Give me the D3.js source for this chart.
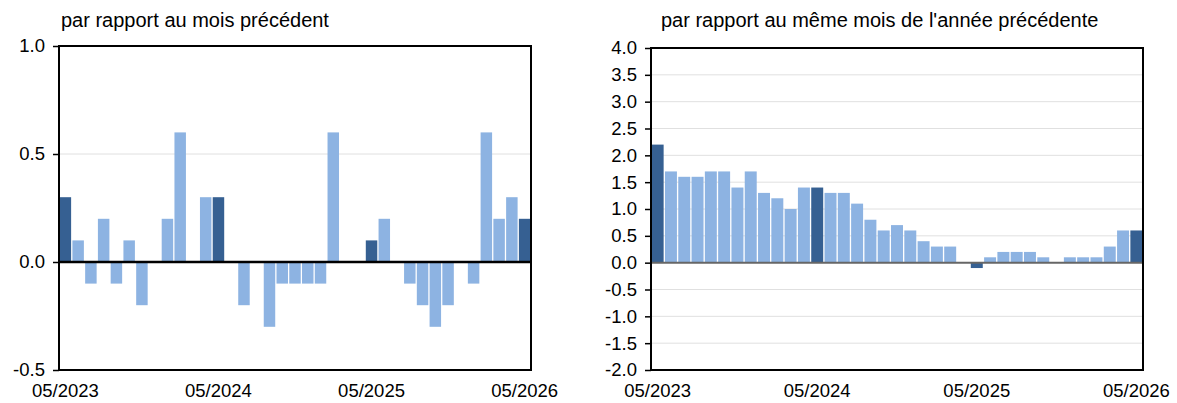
<!DOCTYPE html>
<html>
<head>
<meta charset="utf-8">
<script src="https://cdn.jsdelivr.net/npm/d3@7"></script>
<style>
  body { margin: 0; background: #fff; }
  svg text { font-family: "Liberation Sans", Arial, sans-serif; fill: #000; }
</style>
</head>
<body>
<div id="chart"></div>
<script>
// months from 05/2023 to 05/2026
var months = [];
for (var i = 0; i < 37; i++) {
  var m = (4 + i) % 12 + 1, y = 2023 + Math.floor((4 + i) / 12);
  months.push((m < 10 ? "0" : "") + m + "/" + y);
}
var xLabels = ["05/2023", "05/2024", "05/2025", "05/2026"];

// monthly change, %
var momValues = [0.3, 0.1, -0.1, 0.2, -0.1, 0.1, -0.2, 0, 0.2, 0.6, 0, 0.3, 0.3,
  0, -0.2, 0, -0.3, -0.1, -0.1, -0.1, -0.1, 0.6, 0, 0, 0.1,
  0.2, 0, -0.1, -0.2, -0.3, -0.2, 0, -0.1, 0.6, 0.2, 0.3, 0.2];

// year-over-year change, %
var yoyValues = [2.2, 1.7, 1.6, 1.6, 1.7, 1.7, 1.4, 1.7, 1.3, 1.2, 1.0, 1.4, 1.4,
  1.3, 1.3, 1.1, 0.8, 0.6, 0.7, 0.6, 0.4, 0.3, 0.3, 0, -0.1,
  0.1, 0.2, 0.2, 0.2, 0.1, 0, 0.1, 0.1, 0.1, 0.3, 0.6, 0.6];

var momTicks = [-0.5, 0.0, 0.5, 1.0];
var yoyTicks = [-2.0, -1.5, -1.0, -0.5, 0.0, 0.5, 1.0, 1.5, 2.0, 2.5, 3.0, 3.5, 4.0];

var lightBlue = "#8db3e2", darkBlue = "#366092";

var svg = d3.select("#chart").append("svg")
  .attr("width", 1177)
  .attr("height", 403);

function drawPanel(opt) {
  var g = svg.append("g");

  var x = d3.scaleBand()
    .domain(months)
    .range([opt.left, opt.right])
    .paddingInner(0.1)
    .paddingOuter(0.05);

  var y = d3.scaleLinear()
    .domain(opt.domain)
    .range([opt.bottom, opt.top]);

  // gridlines
  g.selectAll(".grid")
    .data(opt.grid)
    .enter().append("line")
    .attr("x1", opt.left).attr("x2", opt.right)
    .attr("y1", function (d) { return y(d); })
    .attr("y2", function (d) { return y(d); })
    .attr("stroke", "#e0e0e0")
    .attr("stroke-width", 1);

  // bars
  g.selectAll(".bar")
    .data(opt.values)
    .enter().append("rect")
    .attr("x", function (d, i) { return x(months[i]); })
    .attr("width", x.bandwidth())
    .attr("y", function (d) { return y(Math.max(0, d)); })
    .attr("height", function (d) { return Math.abs(y(d) - y(0)); })
    .attr("fill", function (d, i) { return months[i].slice(0, 2) === "05" ? darkBlue : lightBlue; });

  // zero line
  g.append("line")
    .attr("x1", opt.left).attr("x2", opt.right)
    .attr("y1", y(0)).attr("y2", y(0))
    .attr("stroke", opt.zeroColor)
    .attr("stroke-width", opt.zeroWidth);

  // frame
  g.append("rect")
    .attr("x", opt.left).attr("y", opt.top)
    .attr("width", opt.right - opt.left)
    .attr("height", opt.bottom - opt.top)
    .attr("fill", "none")
    .attr("stroke", "#000")
    .attr("stroke-width", 2);

  // y axis
  var yAxis = d3.axisLeft(y)
    .tickValues(opt.ticks)
    .tickSize(6)
    .tickPadding(8)
    .tickFormat(d3.format(".1f"));
  var ya = g.append("g")
    .attr("transform", "translate(" + opt.left + ",0)")
    .call(yAxis);
  ya.select(".domain").remove();
  ya.selectAll("line").attr("stroke", "#000").attr("stroke-width", 1.5);
  ya.selectAll("text")
    .style("font-size", "18.5px")
    .style("font-family", "'Liberation Sans', Arial, sans-serif")
    .attr("fill", "#000")
    .text(function (d) { return d3.format(".1f")(d).replace("−", "-"); });

  // x labels
  var xAxis = d3.axisBottom(x)
    .tickValues(xLabels)
    .tickSize(0)
    .tickPadding(14);
  var xa = g.append("g")
    .attr("transform", "translate(0," + opt.bottom + ")")
    .call(xAxis);
  xa.select(".domain").remove();
  xa.selectAll("text")
    .style("font-size", "18.5px")
    .style("font-family", "'Liberation Sans', Arial, sans-serif")
    .attr("fill", "#000");

  // title
  g.append("text")
    .attr("x", opt.titleX)
    .attr("y", 27)
    .style("font-size", "20px")
    .text(opt.title);
}

drawPanel({
  values: momValues,
  ticks: momTicks,
  grid: [0.5],
  domain: [-0.5, 1.0],
  left: 59, right: 531, top: 46, bottom: 370,
  zeroColor: "#000", zeroWidth: 2.5,
  titleX: 61,
  title: "par rapport au mois précédent"
});

drawPanel({
  values: yoyValues,
  ticks: yoyTicks,
  grid: yoyTicks.filter(function (d) { return d !== 0; }),
  domain: [-2.0, 4.0],
  left: 651, right: 1143, top: 48, bottom: 370,
  zeroColor: "#666", zeroWidth: 2,
  titleX: 661,
  title: "par rapport au même mois de l'année précédente"
});
</script>
</body>
</html>
